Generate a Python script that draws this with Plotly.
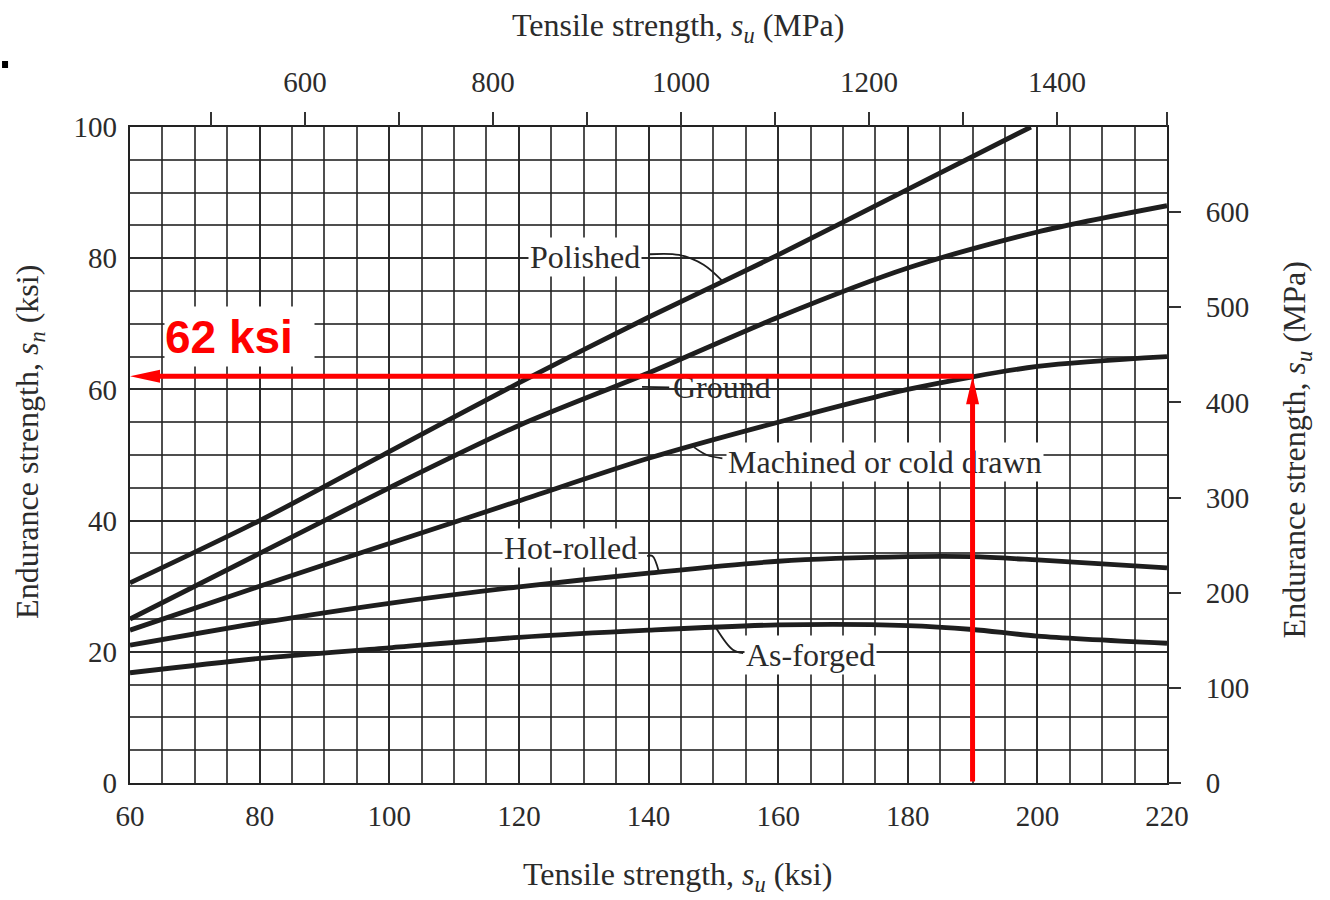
import plotly.graph_objects as go

# ---------------- data (ksi) ----------------
MPA_PER_KSI = 6.895

x_range = [60, 220]
y_range = [0, 100]
x_ticks = [60, 80, 100, 120, 140, 160, 180, 200, 220]
y_ticks = [0, 20, 40, 60, 80, 100]
top_labels_mpa = [600, 800, 1000, 1200, 1400]
top_minor_mpa = [500, 700, 900, 1100, 1300]
right_ticks_mpa = [0, 100, 200, 300, 400, 500, 600]

polished_x = [60, 80, 100, 120, 140, 160, 180, 199]
polished_y = [30.5, 40, 50.5, 61, 71, 80.5, 90.5, 100]

ground_x = [60, 80, 100, 120, 140, 160, 180, 200, 220]
ground_y = [25, 35, 45, 54.5, 62.5, 71, 78.5, 84, 88]

machined_x = [60, 80, 100, 120, 140, 160, 180, 200, 220]
machined_y = [23.3, 30, 36.5, 43, 49.5, 55, 60, 63.5, 65]

hot_x = [60, 80, 100, 120, 140, 160, 180, 190, 200, 220]
hot_y = [21, 24.4, 27.4, 29.9, 32, 33.8, 34.5, 34.5, 34, 32.8]

forged_x = [60, 80, 100, 120, 140, 160, 180, 190, 200, 220]
forged_y = [16.8, 19, 20.6, 22.2, 23.3, 24.1, 24, 23.4, 22.4, 21.3]

# leader lines from labels to curves
polished_leader_x = [140.2, 144.7, 148.5, 151.6]
polished_leader_y = [80.6, 80.5, 79.0, 76.3]
ground_leader_x = [139.0, 143.2]
ground_leader_y = [60.4, 60.3]
machined_leader_x = [147.0, 149.0, 151.4]
machined_leader_y = [51.2, 50.0, 49.5]
hot_leader_x = [139.8, 140.6, 141.6]
hot_leader_y = [34.6, 34.6, 32.2]
forged_leader_x = [150.5, 153.0, 154.6]
forged_leader_y = [23.5, 20.3, 19.8]

label_texts = ["Polished", "Ground", "Machined or cold drawn", "Hot-rolled", "As-forged"]
label_x = [130.2, 151.4, 176.5, 127.9, 165.0]
label_y = [80.2, 60.4, 48.9, 35.8, 19.5]
label_bg = [True, False, True, True, True]

# red read-off annotation
read_su = 190
read_sn = 62
read_text = "62 ksi"
read_text_x = 76.9
read_text_y = 68.1

# ---------------- styles ----------------
INK = "#1e1e1e"
GRID = "rgba(35,35,35,0.80)"
TXT = "#2b2b2b"
SERIF = "Liberation Serif, Times New Roman, serif"
RED = "#ff0000"

fig = go.Figure()

for xs, ys in [(polished_x, polished_y), (ground_x, ground_y), (machined_x, machined_y),
               (hot_x, hot_y), (forged_x, forged_y)]:
    fig.add_trace(go.Scatter(x=xs, y=ys, mode="lines",
                             line=dict(color=INK, width=4.8, shape="spline", smoothing=0.8),
                             showlegend=False, hoverinfo="skip"))

for xs, ys in [(polished_leader_x, polished_leader_y), (ground_leader_x, ground_leader_y),
               (machined_leader_x, machined_leader_y), (hot_leader_x, hot_leader_y),
               (forged_leader_x, forged_leader_y)]:
    fig.add_trace(go.Scatter(x=xs, y=ys, mode="lines",
                             line=dict(color=INK, width=1.8, shape="spline"),
                             showlegend=False, hoverinfo="skip"))

# dummy traces to register secondary axes
fig.add_trace(go.Scatter(x=[], y=[], xaxis="x2", yaxis="y", showlegend=False, hoverinfo="skip"))
fig.add_trace(go.Scatter(x=[], y=[], xaxis="x", yaxis="y2", showlegend=False, hoverinfo="skip"))

annotations = []
for t, lx, ly, bg in zip(label_texts, label_x, label_y, label_bg):
    annotations.append(dict(x=lx, y=ly, xref="x", yref="y", text=t, showarrow=False,
                            font=dict(family=SERIF, size=32, color=TXT),
                            bgcolor="white" if bg else "rgba(0,0,0,0)", borderpad=1))

# axis titles
title_font = dict(family=SERIF, size=32, color=TXT)
annotations += [
    dict(x=0.528, y=1.151, xref="paper", yref="paper", showarrow=False,
         xanchor="center", yanchor="middle",
         text="Tensile strength, <i>s</i><sub><i>u</i></sub> (MPa)", font=title_font),
    dict(x=0.528, y=-0.143, xref="paper", yref="paper", showarrow=False,
         xanchor="center", yanchor="middle",
         text="Tensile strength, <i>s</i><sub><i>u</i></sub> (ksi)", font=title_font),
    dict(x=-0.0964, y=0.52, xref="paper", yref="paper", showarrow=False, textangle=-90,
         xanchor="center", yanchor="middle",
         text="Endurance strength, <i>s</i><sub><i>n</i></sub> (ksi)", font=title_font),
    dict(x=1.125, y=0.508, xref="paper", yref="paper", showarrow=False, textangle=-90,
         xanchor="center", yanchor="middle",
         text="Endurance strength, <i>s</i><sub><i>u</i></sub> (MPa)", font=title_font),
]

# red read-off lines (as annotation arrows so they sit above label boxes)
px_x = (1167 - 130) / (x_range[1] - x_range[0])   # px per ksi horizontally
px_y = (783 - 127) / (y_range[1] - y_range[0])    # px per ksi vertically
head_len_h = 30 / px_x
head_half_h = 6.5 / px_y
head_len_v = 28 / px_y
head_half_v = 6.5 / px_x

annotations += [
    dict(x=read_su, y=read_sn - head_len_v + 0.3, ax=read_su, ay=y_range[0],
         xref="x", yref="y", axref="x", ayref="y", text="", showarrow=True,
         arrowhead=0, arrowwidth=5, arrowcolor=RED, standoff=0, startstandoff=0),
    dict(x=x_range[0] + head_len_h - 0.3, y=read_sn, ax=read_su + 0.4, ay=read_sn,
         xref="x", yref="y", axref="x", ayref="y", text="", showarrow=True,
         arrowhead=0, arrowwidth=5, arrowcolor=RED, standoff=0, startstandoff=0),
    dict(x=read_text_x, y=read_text_y, xref="x", yref="y", text="<b>" + read_text + "</b>",
         showarrow=False, bgcolor="white", width=149, height=59, align="left", valign="middle",
         borderpad=0, font=dict(family="Liberation Sans, Arial, sans-serif", size=46, color=RED)),
]

shapes = [
    dict(type="path", xref="x", yref="y", layer="above", fillcolor=RED, line=dict(width=0),
         path=f"M {x_range[0]},{read_sn} L {x_range[0] + head_len_h},{read_sn + head_half_h} "
              f"L {x_range[0] + head_len_h},{read_sn - head_half_h} Z"),
    dict(type="path", xref="x", yref="y", layer="above", fillcolor=RED, line=dict(width=0),
         path=f"M {read_su},{read_sn} L {read_su - head_half_v},{read_sn - head_len_v} "
              f"L {read_su + head_half_v},{read_sn - head_len_v} Z"),
    dict(type="rect", xref="paper", yref="paper", x0=-0.1234, x1=-0.1176, y0=1.0899, y1=1.1006,
         fillcolor="black", line=dict(width=0)),
]

tick_font = dict(family=SERIF, size=29, color=TXT)
axis_common = dict(showgrid=True, gridcolor=GRID, gridwidth=1.8, zeroline=False,
                   showline=True, linecolor="#222", linewidth=2.2, mirror=True, ticks="",
                   tickfont=tick_font)

fig.update_layout(
    width=1330, height=900, autosize=False,
    margin=dict(l=130, r=163, t=127, b=117, pad=0),
    paper_bgcolor="white", plot_bgcolor="white",
    showlegend=False,
    xaxis=dict(range=x_range, tickvals=x_ticks, ticklabelstandoff=6,
               minor=dict(dtick=5, tick0=60, showgrid=True, gridcolor=GRID, gridwidth=1.8),
               **axis_common),
    yaxis=dict(range=y_range, tickvals=y_ticks, ticklabelstandoff=5,
               minor=dict(dtick=5, tick0=0, showgrid=True, gridcolor=GRID, gridwidth=1.8),
               **axis_common),
    xaxis2=dict(overlaying="x", side="top",
                range=[x_range[0] * MPA_PER_KSI, x_range[1] * MPA_PER_KSI],
                tickvals=top_labels_mpa, showgrid=False, zeroline=False,
                ticks="outside", ticklen=14, tickwidth=2, tickcolor="#333", ticklabelstandoff=8,
                minor=dict(ticks="outside", ticklen=14, tickwidth=2, tickcolor="#333",
                           tickvals=top_minor_mpa + [x_range[1] * MPA_PER_KSI], showgrid=False),
                tickfont=tick_font),
    yaxis2=dict(overlaying="y", side="right",
                range=[y_range[0] * MPA_PER_KSI, y_range[1] * MPA_PER_KSI],
                tickvals=right_ticks_mpa, showgrid=False, zeroline=False,
                ticks="outside", ticklen=13, tickwidth=2, tickcolor="#333", ticklabelstandoff=19,
                tickfont=tick_font),
    annotations=annotations,
    shapes=shapes,
)

fig.write_html("out.html", config={"displayModeBar": False},
               post_script="document.body.style.margin='0px';document.body.style.overflow='hidden';")
